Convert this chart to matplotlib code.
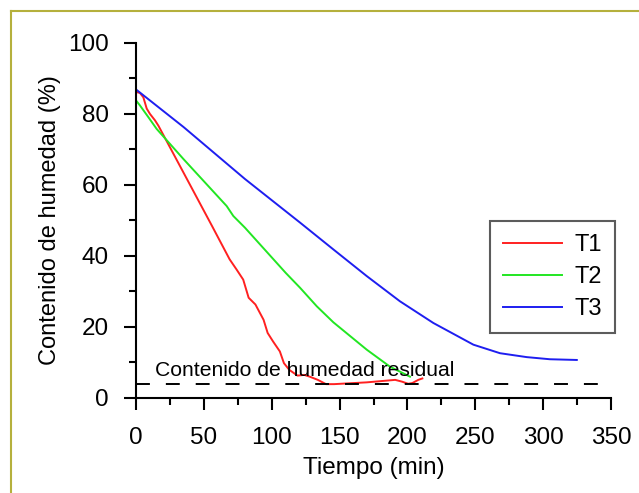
import matplotlib
matplotlib.use("Agg")
import matplotlib.pyplot as plt
from matplotlib.lines import Line2D
from matplotlib.ticker import MultipleLocator

plt.rcParams['font.family'] = ['Liberation Sans', 'DejaVu Sans']
plt.rcParams['lines.scale_dashes'] = False

# Data
t1_x = [0, 2.9, 5.4, 7.9, 10.3, 14, 16.5, 35, 56, 69, 74, 79, 83, 88, 94, 97, 101, 106,
        109, 113, 119, 124, 128, 134, 140, 146, 170, 191, 196, 200.6, 203.6, 208, 211]
t1_y = [86.1, 85.8, 84.6, 81.4, 79.9, 78.1, 76.6, 63.4, 48.4, 39, 36.2, 33.3, 28.2, 26.3, 22,
        18.3, 15.9, 13.1, 9.8, 7.9, 6.3, 6.5, 6.0, 5.1, 3.9, 3.9, 4.4, 5.1, 4.6, 4.0, 4.2, 5.1, 5.5]

t2_x = [0, 2.9, 9.1, 15.2, 35, 66.8, 71.7, 80.3, 110.3, 120.9, 133.2, 145.4, 170, 187.2, 201.9]
t2_y = [83.7, 82.3, 79.0, 75.7, 67.2, 54.0, 51.2, 47.9, 35.2, 31.0, 25.8, 21.3, 13.6, 8.8, 6.0]

t3_x = [0, 35.1, 80.3, 121, 145.4, 170, 194.5, 219.1, 248.6, 268.2, 287.9, 305, 324.8]
t3_y = [86.8, 76.2, 61.6, 49.3, 41.8, 34.3, 27.2, 21.1, 15.0, 12.6, 11.5, 10.9, 10.7]

residual = 4.0
labels = ["T1", "T2", "T3"]
colors = ["#ff2020", "#22e622", "#1e1ef0"]

fig = plt.figure(figsize=(6.39, 4.93), dpi=100)
ax = fig.add_axes([136/639, 1-398/493, 475/639, 355.5/493])

ax.plot(t1_x, t1_y, color=colors[0], lw=1.4, label=labels[0])
ax.plot(t2_x, t2_y, color=colors[1], lw=1.4, label=labels[1])
ax.plot(t3_x, t3_y, color=colors[2], lw=1.4, label=labels[2])
ax.axhline(residual, color='black', lw=1.4, dashes=(10, 11.5), xmin=0, xmax=0.99)
ax.text(14, 5.0, "Contenido de humedad residual", fontsize=15.2, va='bottom', ha='left')

ax.set_xlim(0, 350)
ax.set_ylim(0, 100)
ax.xaxis.set_major_locator(MultipleLocator(50))
ax.xaxis.set_minor_locator(MultipleLocator(25))
ax.yaxis.set_major_locator(MultipleLocator(20))
ax.yaxis.set_minor_locator(MultipleLocator(10))
for s in ['top', 'right']:
    ax.spines[s].set_visible(False)
for s in ['left', 'bottom']:
    ax.spines[s].set_linewidth(1.5)
ax.tick_params(which='major', direction='out', length=8.6, width=1.5, labelsize=17.5)
ax.tick_params(which='minor', direction='out', length=4.8, width=1.5)
ax.tick_params(axis='x', which='major', pad=12)
ax.tick_params(axis='y', which='major', pad=11)
ax.set_xlabel("Tiempo (min)", fontsize=17.5, labelpad=6)
ax.set_ylabel("Contenido de humedad (%)", fontsize=17, labelpad=5)

leg = ax.legend(loc='upper left', bbox_to_anchor=(0.745, 0.497), fontsize=17,
                frameon=True, fancybox=False, edgecolor='#333333', handlelength=2.5,
                handletextpad=0.55, labelspacing=0.42, borderpad=0.55, borderaxespad=0)
leg.get_frame().set_linewidth(1.5)

# figure border (olive)
fig.add_artist(Line2D([11/639, 1], [1-11/493, 1-11/493], color='#b5b03c', lw=1.5,
                      transform=fig.transFigure))
fig.add_artist(Line2D([11/639, 11/639], [0, 1-11/493], color='#b5b03c', lw=1.5,
                      transform=fig.transFigure))

fig.savefig("out.png", dpi=100)
